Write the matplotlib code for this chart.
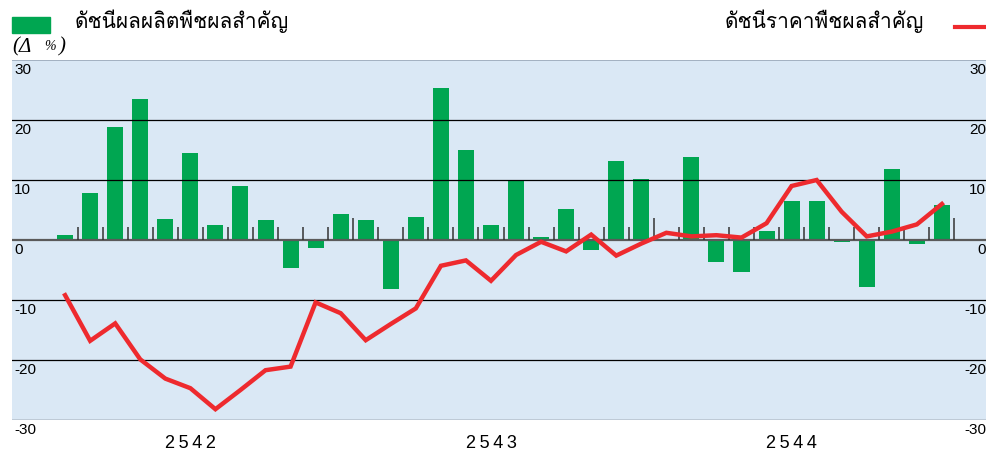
import numpy as np
import matplotlib
matplotlib.use("Agg")
from matplotlib import pyplot as plt
from matplotlib import font_manager, transforms
from matplotlib.ft2font import FT2Font

# data (monthly, 2542-2544)
years = ["2542", "2543", "2544"]
production = [0.8, 7.8, 18.8, 23.5, 3.5, 14.5, 2.5, 9.0, 3.3, -4.7, -1.3, 4.3,
              3.3, -8.2, 3.8, 25.3, 15.0, 2.5, 9.8, 0.5, 5.2, -1.7, 13.2, 10.2,
              -0.2, 13.8, -3.6, -5.3, 1.5, 6.5, 6.5, -0.4, -7.8, 11.8, -0.7, 5.8]
price = [-9.2, -16.8, -13.9, -19.9, -23.1, -24.7, -28.2, -25.0, -21.7, -21.1, -10.4, -12.2,
         -16.7, -14.0, -11.4, -4.3, -3.4, -6.8, -2.5, -0.3, -1.9, 0.9, -2.6, -0.6,
         1.2, 0.6, 0.8, 0.4, 2.8, 9.0, 10.0, 4.7, 0.6, 1.4, 2.6, 6.0]
yticks = [30, 20, 10, 0, -10, -20, -30]

label_prod = "ดัชนีผลผลิตพืชผลสำคัญ"
label_price = "ดัชนีราคาพืชผลสำคัญ"


def thai_font():
    # first installed family that has Thai glyphs (prefer Loma)
    names = []
    for f in font_manager.fontManager.ttflist:
        try:
            cmap = FT2Font(f.fname).get_charmap()
        except Exception:
            continue
        if 0x0E14 in cmap:
            names.append(f.name)
    if "Loma" in names:
        return "Loma"
    return names[0] if names else "DejaVu Sans"


thai = thai_font()

green = "#00A651"
red = "#EE2A2E"
bg = "#DAE8F5"

W, H = 987, 453
fig = plt.figure(figsize=(W / 100, H / 100), dpi=100)
ax = fig.add_axes([12 / W, 33 / H, 1 - 12 / W, 360 / H])
ax.set_facecolor(bg)
for s in ax.spines.values():
    s.set_visible(False)

x = np.arange(len(production))
ax.set_xlim(-2.12, 36.8)
ax.set_ylim(-30, 30)
ax.set_xticks([])
ax.set_yticks([])

ax.bar(x, production, width=0.64, color=green, zorder=2)
for v in yticks:
    if v == 0:
        ax.axhline(0, color="#5a5a5a", lw=1.6, zorder=3)
    elif v == 30:
        ax.axhline(v, color="#9aa8b8", lw=1.2, zorder=3)
    else:
        ax.axhline(v, color="black", lw=0.9, zorder=3)

# month ticks, taller at year ends
tx = x + 0.5
th = np.where((x + 1) % 12 == 0, 3.7, 2.2)
ax.vlines(tx, 0, th, color="#333333", lw=1.1, zorder=3)

ax.plot(x, price, color=red, lw=3.2, zorder=4, solid_joinstyle="miter")

# y labels sit just under each grid line, both sides
left = transforms.blended_transform_factory(fig.transFigure, ax.transData)
for v in yticks:
    ax.text(14 / W, v - 1.7, str(v), transform=left, ha="left", va="center",
            fontsize=11, family="Liberation Sans")
    ax.text(986 / W, v - 1.7, str(v), transform=left, ha="right", va="center",
            fontsize=11, family="Liberation Sans", clip_on=False)

below = transforms.blended_transform_factory(ax.transData, fig.transFigure)
for i, yr in enumerate(years):
    ax.text(5 + 12 * i, 9 / H, "\u2009".join(yr), transform=below, ha="center",
            va="center", fontsize=13, family="Liberation Sans")

# legend drawn at top
fig.patches.append(plt.Rectangle((12 / W, 1 - 33 / H), 38 / W, 16 / H,
                                 transform=fig.transFigure, color=green))
fig.text(75 / W, 1 - 21 / H, label_prod, ha="left", va="center",
         fontsize=15, family=[thai, "DejaVu Sans"])
fig.text(924 / W, 1 - 21 / H, label_price, ha="right", va="center",
         fontsize=15, family=[thai, "DejaVu Sans"])
fig.lines.append(plt.Line2D([955 / W, 1.0], [1 - 27 / H] * 2, color=red, lw=3.0,
                            transform=fig.transFigure))
fig.text(12 / W, 1 - 47 / H, "(", ha="left", va="center", fontsize=15,
         style="italic", family="Liberation Serif")
fig.text(19 / W, 1 - 47 / H, "Δ", ha="left", va="center", fontsize=15,
         style="italic", family="Liberation Serif")
fig.text(44 / W, 1 - 46 / H, "%", ha="left", va="center", fontsize=10,
         style="italic", family="Liberation Serif")
fig.text(59 / W, 1 - 47 / H, ")", ha="left", va="center", fontsize=15,
         style="italic", family="Liberation Serif")

fig.savefig("out.png", dpi=100)
